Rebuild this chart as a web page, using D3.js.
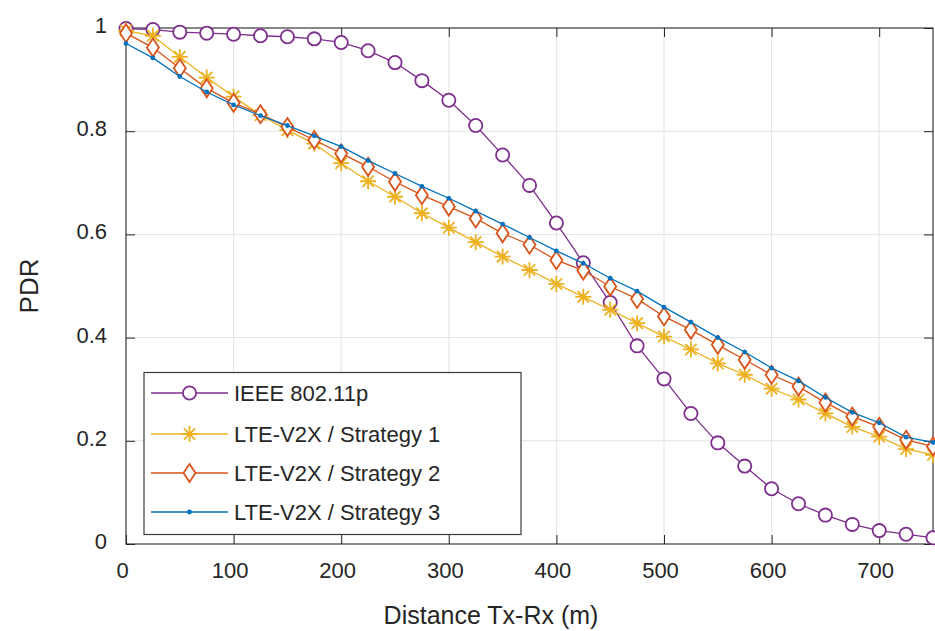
<!DOCTYPE html>
<html>
<head>
<meta charset="utf-8">
<script src="https://cdn.jsdelivr.net/npm/d3@7"></script>
<style>
  html, body { margin: 0; padding: 0; background: #fff; }
  svg { display: block; font-family: "Liberation Sans", Arial, Helvetica, sans-serif; }
</style>
</head>
<body>
<svg id="chart" width="935" height="631"></svg>
<script>
// ---- data (distance step 25 m) ----
const distances = d3.range(0, 751, 25);
const ieee80211p = [0.999, 0.997, 0.992, 0.990, 0.988, 0.985, 0.983, 0.979, 0.972, 0.956, 0.933, 0.898, 0.860, 0.811, 0.754, 0.695, 0.622, 0.545, 0.468, 0.384, 0.320, 0.253, 0.196, 0.151, 0.107, 0.078, 0.056, 0.038, 0.026, 0.019, 0.012];
const strategy1 = [0.995, 0.985, 0.944, 0.904, 0.867, 0.831, 0.802, 0.776, 0.738, 0.703, 0.673, 0.641, 0.613, 0.585, 0.557, 0.531, 0.504, 0.479, 0.454, 0.428, 0.402, 0.377, 0.350, 0.328, 0.301, 0.280, 0.253, 0.227, 0.208, 0.184, 0.173];
const strategy2 = [0.990, 0.962, 0.922, 0.883, 0.855, 0.833, 0.808, 0.783, 0.757, 0.731, 0.702, 0.676, 0.654, 0.631, 0.602, 0.580, 0.550, 0.530, 0.499, 0.475, 0.441, 0.415, 0.386, 0.357, 0.328, 0.305, 0.274, 0.247, 0.227, 0.202, 0.189];
const strategy3 = [0.970, 0.942, 0.906, 0.876, 0.851, 0.830, 0.811, 0.791, 0.770, 0.743, 0.718, 0.693, 0.670, 0.645, 0.620, 0.594, 0.568, 0.544, 0.515, 0.490, 0.459, 0.430, 0.400, 0.372, 0.341, 0.316, 0.284, 0.255, 0.235, 0.207, 0.197];
const seriesNames = ["IEEE 802.11p", "LTE-V2X / Strategy 1", "LTE-V2X / Strategy 2", "LTE-V2X / Strategy 3"];
const xTicks = [0, 100, 200, 300, 400, 500, 600, 700];
const yTicks = [0, 0.2, 0.4, 0.6, 0.8, 1];
const xLabel = "Distance Tx-Rx (m)";
const yLabel = "PDR";

// ---- styles ----
const colors = ["#7E2F8E", "#EDB120", "#D95319", "#0072BD"];
const markers = ["circle", "star", "diamond", "dot"];

const svg = d3.select("#chart");
const L = 126, T = 28, R = 933, B = 544;
const x = d3.scaleLinear().domain([0, 750]).range([L, R]);
const y = d3.scaleLinear().domain([0, 1]).range([B, T]);

// grid
const grid = svg.append("g");
grid.selectAll(".gx").data(xTicks.filter(d => d > 0)).join("line")
  .attr("x1", d => x(d)).attr("x2", d => x(d)).attr("y1", T).attr("y2", B)
  .attr("stroke", "#e3e3e3").attr("stroke-width", 1);
grid.selectAll(".gy").data(yTicks.filter(d => d > 0 && d < 1)).join("line")
  .attr("y1", d => y(d)).attr("y2", d => y(d)).attr("x1", L).attr("x2", R)
  .attr("stroke", "#e3e3e3").attr("stroke-width", 1);

// axes with inward ticks
const tickLen = 9;
const axisColor = "#262626";
const xAxisB = d3.axisBottom(x).tickValues(xTicks).tickSize(-tickLen).tickPadding(18).tickFormat(d3.format("d"));
const gxB = svg.append("g").attr("transform", `translate(0,${B})`).call(xAxisB);
const xAxisT = d3.axisTop(x).tickValues(xTicks).tickSize(-tickLen).tickFormat("");
const gxT = svg.append("g").attr("transform", `translate(0,${T})`).call(xAxisT);
const yAxisL = d3.axisLeft(y).tickValues(yTicks).tickSize(-tickLen).tickPadding(19).tickFormat(d => d3.format("")(d));
const gyL = svg.append("g").attr("transform", `translate(${L},0)`).call(yAxisL);
const yAxisR = d3.axisRight(y).tickValues(yTicks).tickSize(-tickLen).tickFormat("");
const gyR = svg.append("g").attr("transform", `translate(${R},0)`).call(yAxisR);

[gxB, gxT, gyL, gyR].forEach(g => {
  g.select(".domain").remove();
  g.selectAll(".tick line").attr("stroke", axisColor).attr("stroke-width", 1);
  g.selectAll("text").attr("fill", "#262626").attr("font-size", 22)
    .attr("font-family", '"Liberation Sans", Arial, sans-serif');
});
gxB.selectAll("text").attr("dy", "0.71em").attr("dx", -4);
gyL.selectAll("text").attr("dy", "0.2em");

// box
svg.append("rect").attr("x", L).attr("y", T).attr("width", R - L).attr("height", B - T)
  .attr("fill", "none").attr("stroke", axisColor).attr("stroke-width", 1.1);

// axis labels
svg.append("text").attr("x", 491).attr("y", 624).attr("text-anchor", "middle")
  .attr("font-size", 25).attr("fill", "#262626").text(xLabel);
svg.append("text").attr("transform", `translate(38,${(T + B) / 2}) rotate(-90)`)
  .attr("text-anchor", "middle").attr("font-size", 26).attr("fill", "#262626").text(yLabel);

// marker drawing
function drawMarker(g, type, color) {
  if (type === "circle") {
    g.append("circle").attr("r", 6.6).attr("fill", "#fff").attr("stroke", color).attr("stroke-width", 1.8);
  } else if (type === "diamond") {
    g.append("path").attr("d", "M0,-9L6,0L0,9L-6,0Z").attr("fill", "#fff").attr("stroke", color).attr("stroke-width", 1.8);
  } else if (type === "star") {
    const r = 8, d = r * 0.7071;
    g.append("path").attr("d", `M${-r},0H${r}M0,${-r}V${r}M${-d},${-d}L${d},${d}M${-d},${d}L${d},${-d}`)
      .attr("stroke", color).attr("stroke-width", 1.8).attr("fill", "none");
  } else {
    g.append("circle").attr("r", 2.4).attr("fill", color);
  }
}

const allSeries = [ieee80211p, strategy1, strategy2, strategy3];
const plot = svg.append("g");
const line = d3.line().x((d, i) => x(distances[i])).y(d => y(d));
allSeries.forEach((vals, si) => {
  const g = plot.append("g");
  g.append("path").datum(vals).attr("d", line).attr("fill", "none")
    .attr("stroke", colors[si]).attr("stroke-width", 1.3);
  vals.forEach((v, i) => {
    const m = g.append("g").attr("transform", `translate(${x(distances[i])},${y(v)})`);
    drawMarker(m, markers[si], colors[si]);
  });
});

// legend
const lg = svg.append("g");
lg.append("rect").attr("x", 144).attr("y", 372.5).attr("width", 377).attr("height", 162)
  .attr("fill", "#fff").attr("stroke", "#3a3a3a").attr("stroke-width", 1.2);
const rowY = [393, 434, 473, 512];
seriesNames.forEach((name, i) => {
  lg.append("line").attr("x1", 151).attr("x2", 228).attr("y1", rowY[i]).attr("y2", rowY[i])
    .attr("stroke", colors[i]).attr("stroke-width", 1.3);
  const m = lg.append("g").attr("transform", `translate(189.5,${rowY[i]})`);
  drawMarker(m, markers[i], colors[i]);
  lg.append("text").attr("x", 234).attr("y", rowY[i]).attr("dy", "0.36em")
    .attr("font-size", 22).attr("fill", "#262626").text(name);
});
</script>
</body>
</html>
